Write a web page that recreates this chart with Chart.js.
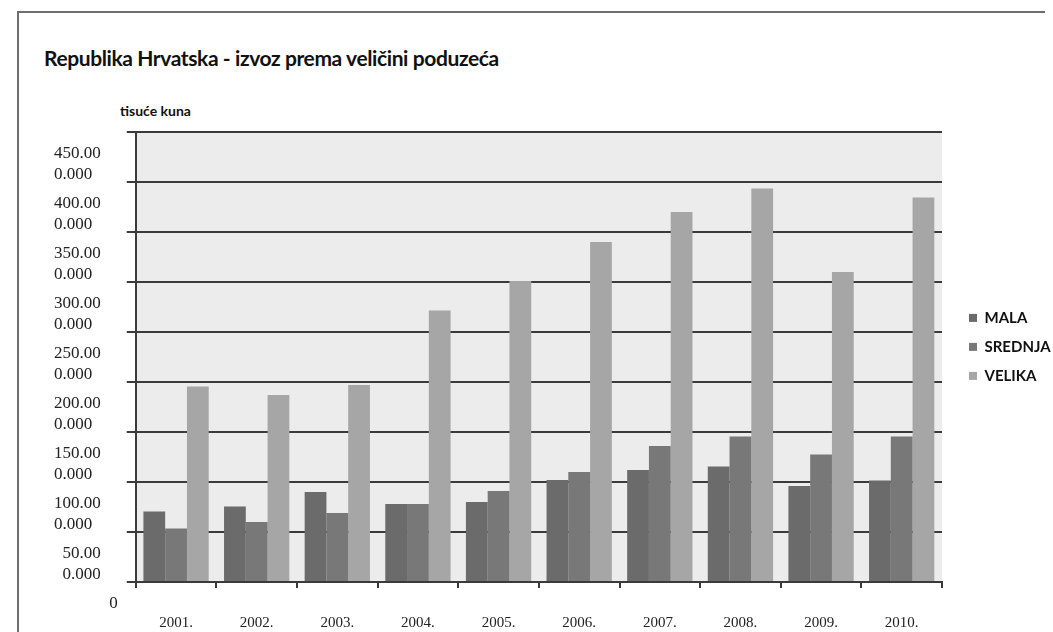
<!DOCTYPE html>
<html>
<head>
<meta charset="utf-8">
<title>Republika Hrvatska - izvoz prema veličini poduzeća</title>
<script src="https://cdn.jsdelivr.net/npm/chart.js"></script>
<style>
    html, body { margin: 0; padding: 0; background: #fff; width: 1053px; height: 632px; overflow: hidden; }
    #frame { position: absolute; left: 17px; top: 11px; width: 1026px; height: 700px; border-left: 2px solid #6e6e6e; border-top: 2px solid #6e6e6e; }
    #title { position: absolute; left: 44px; top: 47px; font: bold 21px Lato, sans-serif; letter-spacing: -0.4px; color: #111; white-space: nowrap; line-height: 1; }
    #unit { position: absolute; left: 120px; top: 104px; font: bold 14px Lato, sans-serif; color: #111; line-height: 1; }
    #wrap { position: absolute; left: 0; top: 90px; width: 1053px; height: 568px; }
</style>
</head>
<body>
<div id="frame"></div>
<div id="title">Republika Hrvatska - izvoz prema veličini poduzeća</div>
<div id="unit">tisuće kuna</div>
<div id="wrap"><canvas id="chart"></canvas></div>
<script>
// Izvoz prema veličini poduzeća (tisuće kuna), očitano sa slike
const years = ['2001.', '2002.', '2003.', '2004.', '2005.', '2006.', '2007.', '2008.', '2009.', '2010.'];
const mala    = [70500000, 75500000, 90000000, 78000000, 80000000, 102000000, 112000000, 115500000, 96000000, 101500000];
const srednja = [53500000, 60000000, 69000000, 78000000, 91000000, 110000000, 136000000, 145500000, 127500000, 145500000];
const velika  = [195500000, 187000000, 197000000, 271500000, 301000000, 340000000, 370000000, 393500000, 310000000, 384500000];
const seriesNames = ['MALA', 'SREDNJA', 'VELIKA'];
const yMax = 450000000;
const yStep = 50000000;

// "450.000.000" -> ["450.00", "0.000"], wrapped like the original
function yTickLabel(v) {
    if (v === 0) return ['0', ''];
    const s = v.toLocaleString('de-DE');
    const top = s.slice(0, -5), bottom = s.slice(-5);
    const pad = ' '.repeat(Math.max(0, (top.length - bottom.length) * 2));
    return [top + '    ', bottom + pad + '    '];
}

const plotBg = {
    id: 'plotBg',
    beforeDraw(chart) {
        const { ctx, chartArea: a } = chart;
        ctx.save();
        ctx.fillStyle = '#ececec';
        ctx.fillRect(a.left, a.top, a.right - a.left, a.bottom - a.top);
        ctx.restore();
    }
};

new Chart(document.getElementById('chart'), {
    type: 'bar',
    data: {
        labels: years,
        datasets: [
            { label: seriesNames[0], data: mala, backgroundColor: '#6b6b6b', borderWidth: 0 },
            { label: seriesNames[1], data: srednja, backgroundColor: '#787878', borderWidth: 0 },
            { label: seriesNames[2], data: velika, backgroundColor: '#a6a6a6', borderWidth: 0 }
        ]
    },
    options: {
        responsive: true,
        maintainAspectRatio: false,
        animation: false,
        layout: { padding: { left: 45, top: 42, right: 0, bottom: 0 } },
        datasets: { bar: { categoryPercentage: 0.81, barPercentage: 1.0 } },
        scales: {
            x: {
                border: { color: '#3a3a3a', width: 2 },
                grid: { drawOnChartArea: false, tickLength: 6, color: '#3a3a3a', lineWidth: 2 },
                ticks: { padding: 26, color: '#222', font: { family: 'Liberation Serif', size: 15 } }
            },
            y: {
                min: 0,
                max: yMax,
                border: { color: '#3a3a3a', width: 2 },
                grid: { color: '#3a3a3a', lineWidth: 2, tickLength: 9 },
                ticks: {
                    stepSize: yStep,
                    autoSkip: false,
                    labelOffset: 32,
                    padding: 9,
                    color: '#222',
                    font: { family: 'Liberation Serif', size: 17, lineHeight: 1.28 },
                    callback: v => yTickLabel(v)
                }
            },
            spacer: {
                type: 'linear',
                position: 'right',
                grid: { display: false },
                border: { display: false },
                ticks: { display: false },
                afterFit: s => { s.width = 13; }
            }
        },
        plugins: {
            legend: {
                position: 'right',
                align: 'start',
                fullSize: false,
                maxWidth: 98,
                title: { display: true, text: ' ', font: { size: 12 }, padding: { top: 150, bottom: 0 } },
                labels: {
                    boxWidth: 8,
                    boxHeight: 8,
                    padding: 14,
                    color: '#111',
                    font: { family: 'Lato', size: 15, weight: 'bold' }
                }
            },
            tooltip: { enabled: false }
        }
    },
    plugins: [plotBg]
});
</script>
</body>
</html>
